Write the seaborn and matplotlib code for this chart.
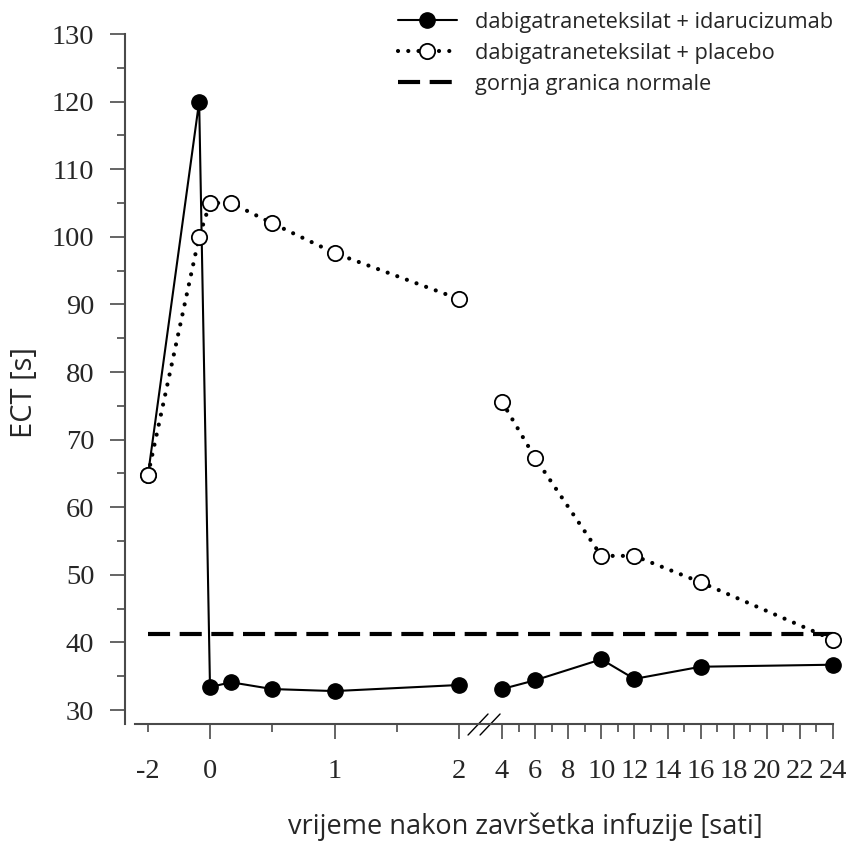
import numpy as np
import pandas as pd
import matplotlib
matplotlib.use("Agg")
import matplotlib.pyplot as plt
from matplotlib.lines import Line2D
import seaborn as sns

# Time after end of infusion [h]; the axis is broken between 2 h and 4 h
time_h = [-2, -0.35, 0, 0.17, 0.5, 1, 2, 4, 6, 10, 12, 16, 24]
segment = [0, 0, 0, 0, 0, 0, 0, 1, 1, 1, 1, 1, 1]
ect_idarucizumab = [64.8, 120.0, 33.4, 34.1, 33.1, 32.8, 33.7, 33.1, 34.4, 37.5, 34.6, 36.4, 36.7]
ect_placebo = [64.8, 100.0, 105.0, 105.0, 102.0, 97.6, 90.8, 75.6, 67.3, 52.8, 52.8, 48.9, 40.4]
upper_normal_limit = 41.2

label_ida = "dabigatraneteksilat + idarucizumab"
label_pla = "dabigatraneteksilat + placebo"
label_lim = "gornja granica normale"

major_x = [0, 1, 2, 4, 6, 8, 10, 12, 14, 16, 18, 20, 22, 24]
minor_x = [-2, 0.5, 1.5, 5, 7, 9, 11, 13, 15, 17, 19, 21, 23]

df = pd.DataFrame({"t": time_h, "seg": segment,
                   "ida": ect_idarucizumab, "pla": ect_placebo})

sns.set_style("ticks")
plt.rcParams["font.family"] = ["Open Sans", "DejaVu Sans"]
SERIF = "Liberation Serif"
AXCOL = "#4a4a4a"

# piecewise-linear time axis: -2..0 compressed, 2..4 collapsed into a break
knots_t = [-3, -2, 0, 2, 4, 24, 26]
knots_u = [-31, 0, 62, 311, 354, 685, 718]


def fwd(x):
    return np.interp(x, knots_t, knots_u)


def inv(u):
    return np.interp(u, knots_u, knots_t)


fig = plt.figure(figsize=(8.49, 8.41), dpi=100)
ax = fig.add_axes([125 / 849, 117 / 841, 708 / 849, 690 / 841])
ax.set_xscale("function", functions=(fwd, inv))

sns.lineplot(data=df, x="t", y="ida", units="seg", estimator=None, ax=ax,
             color="black", lw=1.5, marker="o", markersize=11,
             markerfacecolor="black", markeredgecolor="black",
             markeredgewidth=1.0, clip_on=False, zorder=3)
sns.lineplot(data=df, x="t", y="pla", units="seg", estimator=None, ax=ax,
             color="black", lw=3.0, linestyle=(0, (0.01, 2.45)),
             dash_capstyle="round", marker="o", markersize=11,
             markerfacecolor="white", markeredgecolor="black",
             markeredgewidth=1.3, clip_on=False, zorder=4)
ax.axhline(upper_normal_limit, xmin=(148 - 125) / 708, xmax=1.0,
           color="black", lw=3.0, linestyle=(0, (5.3, 2.3)), zorder=2)

ax.set_xlim(inv(-23), 24)
ax.set_ylim(27.93, 130)

sns.despine(ax=ax)
ax.spines["bottom"].set_bounds(inv(-13), 24)
for s in ("left", "bottom"):
    ax.spines[s].set_color(AXCOL)
    ax.spines[s].set_linewidth(1.5)

ax.set_yticks(np.arange(30, 131, 10))
ax.set_yticks(np.arange(35, 130, 10), minor=True)
ax.set_xticks(major_x, labels=[str(v) for v in major_x])
ax.set_xticks(minor_x, labels=["-2"] + [""] * (len(minor_x) - 1), minor=True)

ax.tick_params(axis="y", which="major", length=11, width=1.2, color=AXCOL, pad=11)
ax.tick_params(axis="y", which="minor", length=5.5, width=1.2, color=AXCOL)
ax.tick_params(axis="x", which="major", length=11, width=1.2, color=AXCOL, pad=14)
ax.tick_params(axis="x", which="minor", length=6, width=1.2, color=AXCOL, pad=19)
for lab in ax.get_xticklabels(which="both") + ax.get_yticklabels():
    lab.set_fontfamily(SERIF)
    lab.set_fontsize(20.5)

ax.set_xlabel("vrijeme nakon završetka infuzije [sati]", fontsize=19.5, labelpad=20.5)
ax.xaxis.label.set_x(0.565)
ax.set_ylabel("ECT [s]", fontsize=21, labelpad=9)
ax.yaxis.label.set_y(0.481)

# axis break marks between 2 h and 4 h
brk = ax.get_xaxis_transform()
for x0, x1 in ((2.42, 3.35), (2.98, 3.91)):
    ax.add_line(Line2D([x0, x1], [-0.016, 0.0145], transform=brk,
                       color="black", lw=1.0, clip_on=False))

handles = [
    Line2D([], [], color="black", lw=1.5, marker="o", markersize=11,
           markerfacecolor="black", markeredgecolor="black"),
    Line2D([], [], color="black", lw=3.0, linestyle=(0, (0.01, 2.45)),
           dash_capstyle="round", marker="o", markersize=11,
           markerfacecolor="white", markeredgecolor="black", markeredgewidth=1.3),
    Line2D([], [], color="black", lw=3.0, linestyle=(0, (5.3, 2.3))),
]
fig.legend(handles, [label_ida, label_pla, label_lim], loc="upper left",
           bbox_to_anchor=(398 / 849, 1 - 12 / 841), frameon=False,
           fontsize=15.7, handlelength=2.7, handletextpad=0.85,
           labelspacing=0.45, borderpad=0, borderaxespad=0)

fig.savefig("out.png", dpi=100)
